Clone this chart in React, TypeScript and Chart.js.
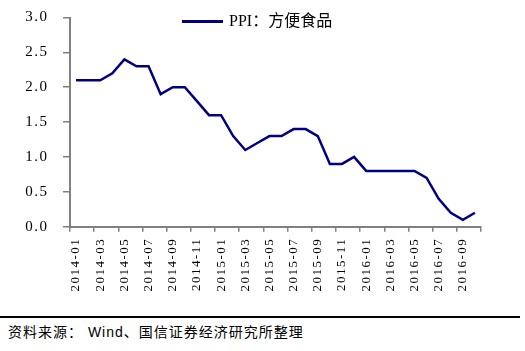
import React, { useEffect, useRef } from 'react';
import { Chart, registerables } from 'chart.js';

Chart.register(...registerables);

const months = [
  '2014-01', '2014-02', '2014-03', '2014-04', '2014-05', '2014-06', '2014-07', '2014-08', '2014-09', '2014-10', '2014-11', '2014-12',
  '2015-01', '2015-02', '2015-03', '2015-04', '2015-05', '2015-06', '2015-07', '2015-08', '2015-09', '2015-10', '2015-11', '2015-12',
  '2016-01', '2016-02', '2016-03', '2016-04', '2016-05', '2016-06', '2016-07', '2016-08', '2016-09', '2016-10',
];

const ppiValues = [
  2.1, 2.1, 2.1, 2.2, 2.4, 2.3, 2.3, 1.9, 2.0, 2.0, 1.8, 1.6,
  1.6, 1.3, 1.1, 1.2, 1.3, 1.3, 1.4, 1.4, 1.3, 0.9, 0.9, 1.0,
  0.8, 0.8, 0.8, 0.8, 0.8, 0.7, 0.4, 0.2, 0.1, 0.2,
];

const seriesLabel = 'PPI：方便食品';
const sourceText = '资料来源： Wind、国信证券经济研究所整理';
const yMin = 0;
const yMax = 3;
const yStep = 0.5;

const AXIS_GRAY = '#808080';
const LINE_COLOR = '#000080';
const SERIF = "'Liberation Serif', 'Noto Sans CJK SC', serif";

const spacingPlugin = {
  id: 'tickSpacing',
  beforeDraw(chart: any) {
    chart.ctx.letterSpacing = '1.5px';
  },
  beforeDatasetsDraw(chart: any) {
    chart.ctx.letterSpacing = '0px';
  },
};

const legendPlugin = {
  id: 'insideLegend',
  afterDraw(chart: any) {
    const ctx = chart.ctx;
    const ds = chart.data.datasets[0];
    const y = chart.chartArea.top + 4;
    ctx.save();
    ctx.letterSpacing = '0px';
    ctx.strokeStyle = ds.borderColor;
    ctx.lineWidth = 3;
    ctx.beginPath();
    ctx.moveTo(182, y);
    ctx.lineTo(223, y);
    ctx.stroke();
    ctx.fillStyle = '#000';
    ctx.font = `16px ${SERIF}`;
    ctx.textBaseline = 'middle';
    ctx.textAlign = 'left';
    ctx.fillText(ds.label, 229, y);
    ctx.restore();
  },
};

export default function App() {
  const canvasRef = useRef<HTMLCanvasElement | null>(null);

  useEffect(() => {
    const canvas = canvasRef.current;
    if (!canvas) return;
    const H = 310;
    const chart = new Chart(canvas, {
      type: 'line',
      data: {
        labels: months,
        datasets: [
          {
            label: seriesLabel,
            data: ppiValues,
            borderColor: LINE_COLOR,
            backgroundColor: LINE_COLOR,
            borderWidth: 2.5,
            pointRadius: 0,
            tension: 0,
            fill: false,
          },
        ],
      },
      options: {
        responsive: false,
        animation: false,
        layout: { padding: { left: 0, right: 44, top: 17.5, bottom: 0 } },
        plugins: {
          legend: { display: false },
          tooltip: { enabled: false },
          title: { display: false },
        },
        scales: {
          x: {
            type: 'category',
            offset: true,
            afterFit(scale: any) {
              scale.height = H - 226.7;
            },
            grid: {
              offset: true,
              drawOnChartArea: false,
              drawTicks: true,
              tickLength: 5,
              lineWidth: 1.5,
              color: (ctx: any) =>
                ctx.index === undefined || ctx.index % 2 === 0 ? AXIS_GRAY : 'rgba(0,0,0,0)',
            },
            border: { display: true, color: AXIS_GRAY, width: 2 },
            ticks: {
              autoSkip: false,
              maxRotation: 90,
              minRotation: 90,
              padding: 6,
              color: '#000',
              font: { family: SERIF, size: 13 },
              callback: function (this: any, val: any, idx: number) {
                return idx % 2 === 0 ? this.getLabelForValue(val) : '';
              },
            },
          },
          y: {
            min: yMin,
            max: yMax,
            afterFit(scale: any) {
              scale.width = 70;
              scale.paddingTop = 0;
              scale.paddingBottom = 0;
            },
            grid: {
              drawOnChartArea: false,
              drawTicks: true,
              tickLength: 7,
              lineWidth: 1.5,
              color: AXIS_GRAY,
            },
            border: { display: true, color: AXIS_GRAY, width: 2 },
            ticks: {
              stepSize: yStep,
              padding: 14.5,
              color: '#000',
              font: { family: SERIF, size: 15 },
              callback: (v: any) => Number(v).toFixed(1),
            },
          },
        },
      },
      plugins: [spacingPlugin, legendPlugin],
    });
    return () => chart.destroy();
  }, []);

  return (
    <div
      style={{
        position: 'absolute',
        left: 0,
        top: 0,
        width: 525,
        height: 351,
        background: '#fff',
        overflow: 'hidden',
      }}
    >
      <canvas ref={canvasRef} width={525} height={310} style={{ display: 'block' }} />
      <div
        style={{
          position: 'absolute',
          left: 0,
          top: 316,
          width: 520,
          height: 2,
          background: '#000',
        }}
      />
      <div
        style={{
          position: 'absolute',
          left: 8,
          top: 322,
          fontFamily: "'Liberation Sans', 'Noto Sans CJK SC', sans-serif",
          fontSize: 14,
          letterSpacing: 1,
          lineHeight: '20px',
          color: '#000',
          whiteSpace: 'nowrap',
        }}
      >
        {sourceText}
      </div>
    </div>
  );
}
